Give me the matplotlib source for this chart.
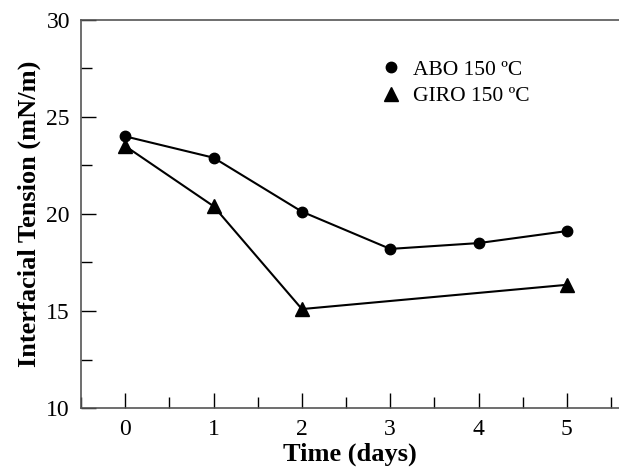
import matplotlib
matplotlib.use("Agg")
import matplotlib.pyplot as plt
from matplotlib.lines import Line2D
from matplotlib.ticker import MultipleLocator

# data
abo_days = [0, 1, 2, 3, 4, 5]
abo_ift = [24.0, 22.9, 20.12, 18.2, 18.5, 19.12]
giro_days = [0, 1, 2, 5]
giro_ift = [23.5, 20.4, 15.1, 16.35]
labels = ["ABO 150 ºC", "GIRO 150 ºC"]

plt.rcParams['font.family'] = ['Liberation Serif', 'DejaVu Serif']

fig = plt.figure(figsize=(6.19, 4.75), dpi=100)
ax = fig.add_axes([0.131, 0.141, 0.869, 0.817])

ax.plot(abo_days, abo_ift, color="black", lw=1.5, marker="o", ms=7.5)
ax.plot(giro_days, giro_ift, color="black", lw=1.5, marker="^", ms=9.5)

ax.set_xlim(-0.5, 5.59)
ax.set_ylim(10, 30)
ax.xaxis.set_major_locator(MultipleLocator(1))
ax.xaxis.set_minor_locator(MultipleLocator(0.5))
ax.yaxis.set_major_locator(MultipleLocator(5))
ax.yaxis.set_minor_locator(MultipleLocator(2.5))
ax.tick_params(which="major", direction="in", length=11, width=1, labelsize=17, pad=8)
ax.tick_params(which="minor", direction="in", length=8, width=1)

ax.spines["right"].set_visible(False)
for s in ["left", "top", "bottom"]:
    ax.spines[s].set_color("#555555")
    ax.spines[s].set_linewidth(1.2)

ax.set_xlabel("Time (days)", fontsize=19, fontweight="bold", labelpad=2)
ax.set_ylabel("Interfacial Tension (mN/m)", fontsize=19, fontweight="bold", labelpad=4)

handles = [Line2D([], [], color="black", marker="o", ls="", ms=7.5),
           Line2D([], [], color="black", marker="^", ls="", ms=10)]
ax.legend(handles, labels, loc="upper left", bbox_to_anchor=(0.533, 0.925),
          frameon=False, fontsize=15.5, handlelength=1.2, handletextpad=0.4,
          labelspacing=0.3, borderpad=0)

fig.savefig("out.png", dpi=100)
